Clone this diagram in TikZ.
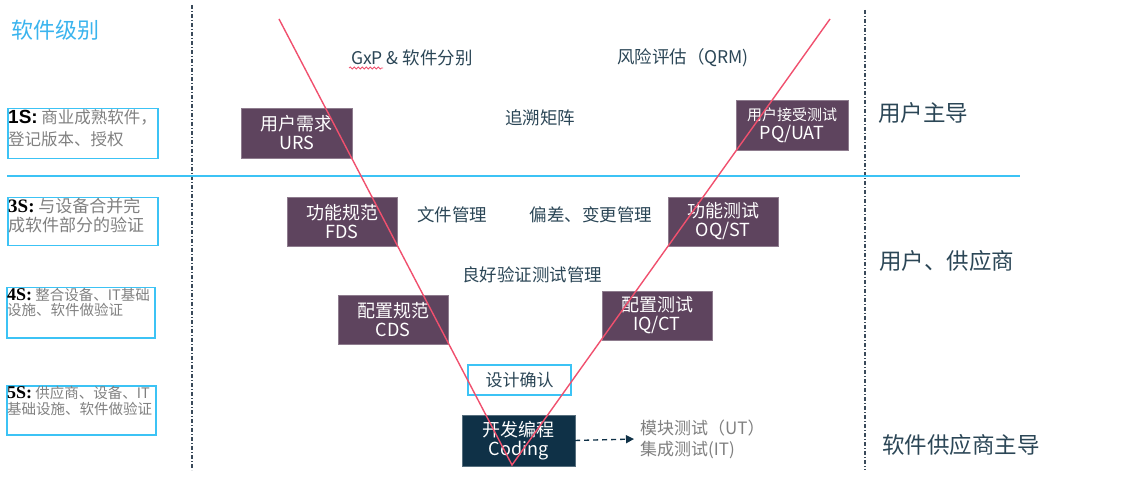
\documentclass[tikz,border=0pt]{standalone}
\usepackage{fontspec}
\setmainfont{Noto Sans CJK SC}
\newfontfamily\lblfont{Liberation Serif}
\newfontfamily\lblsans{Liberation Sans}
\usetikzlibrary{arrows.meta,decorations.pathmorphing}
\definecolor{vpurple}{RGB}{94,68,94}
\definecolor{vnavy}{RGB}{15,49,71}
\definecolor{vcyan}{RGB}{60,195,245}
\definecolor{vtitle}{RGB}{58,180,238}
\definecolor{vdark}{RGB}{43,70,86}
\definecolor{vgrey}{RGB}{128,128,128}
\definecolor{vred}{RGB}{240,80,110}
\definecolor{vdash}{RGB}{58,74,90}
\tikzset{
  pbox/.style={fill=vpurple, draw=vpurple!70!white, text=white, align=center, inner sep=0pt,
    font=\fontsize{18}{19}\selectfont},
  lbox/.style={draw=vcyan, line width=1.5pt, anchor=north west, minimum width=150pt, minimum height=50pt, inner sep=0pt},
  ltext/.style={anchor=north west, align=left, inner sep=1pt, text=vgrey},
  midtext/.style={text=vdark, font=\fontsize{17.5}{19}\selectfont, inner sep=0pt},
  sidetext/.style={text=vdark, font=\fontsize{22.5}{24}\selectfont, inner sep=0pt, anchor=west},
  vdiv/.style={draw=vdash, line width=1.3pt, dash pattern=on 4pt off 2pt on 1pt off 2pt},
  vline/.style={draw=vred, line width=1.4pt},
}
\begin{document}
\begin{tikzpicture}[x=1pt,y=-1pt]
\useasboundingbox (0,0) rectangle (1124,478);
% title
\node[text=vtitle, font=\fontsize{22}{24}\selectfont, anchor=west, inner sep=0pt] (title) at (11,30) {软件级别};
% dividers
\coordinate (l1) at (192,5); \coordinate (l2) at (192,470);
\coordinate (r1) at (865,10); \coordinate (r2) at (865,470);
\coordinate (h1) at (7,176); \coordinate (h2) at (1020,176);
\draw[vdiv] (l1) -- (l2);
\draw[vdiv] (r1) -- (r2);
\draw[vcyan, line width=1.5pt] (h1) -- (h2);
% left level boxes
\node[lbox] (b1) at (7,108) {};
\node[ltext, font=\fontsize{16.5}{22}\selectfont] (t1) at (b1.north west) {{\color{black}\lblsans\bfseries\fontsize{19}{17}\selectfont 1S:} 商业成熟软件，\\登记版本、授权};
\node[lbox, minimum width=150pt, minimum height=48pt] (b3) at (7,197) {};
\node[ltext, font=\fontsize{17}{18.5}\selectfont] (t3) at (b3.north west) {{\color{black}\lblfont\bfseries\fontsize{19}{19}\selectfont 3S:} 与设备合并完\\成软件部分的验证};
\node[lbox, minimum width=148pt, minimum height=50pt] (b4) at (6,287) {};
\node[ltext, font=\fontsize{14.5}{15.5}\selectfont] (t4) at (b4.north west) {{\color{black}\lblfont\bfseries\fontsize{18}{16}\selectfont 4S:} 整合设备、IT基础\\设施、软件做验证};
\node[lbox, minimum width=149pt, minimum height=49pt] (b5) at (6,385) {};
\node[ltext, font=\fontsize{14.5}{16}\selectfont] (t5) at (b5.north west) {{\color{black}\lblfont\bfseries\fontsize{18}{16}\selectfont 5S:} 供应商、设备、IT\\基础设施、软件做验证};
% purple boxes
\node[pbox, minimum width=111pt, minimum height=50pt] (urs) at (296.5,133) {用户需求\\URS};
\node[pbox, minimum width=112pt, minimum height=50pt] (pq) at (792,125) {{\fontsize{15}{17}\selectfont 用户接受测试}\\PQ/UAT};
\node[pbox, minimum width=110pt, minimum height=49pt] (fds) at (342,221.5) {功能规范\\FDS};
\node[pbox, minimum width=110pt, minimum height=49pt] (oq) at (723,221.5) {功能测试\\OQ/ST};
\node[pbox, minimum width=110pt, minimum height=49pt] (cds) at (393,319.5) {配置规范\\CDS};
\node[pbox, minimum width=110pt, minimum height=49pt] (iq) at (657,315.5) {配置测试\\IQ/CT};
\node[draw=vcyan, line width=1.3pt, fill=white, minimum width=103pt, minimum height=30pt, inner sep=0pt, text=vdark, font=\fontsize{17}{18}\selectfont] (dq) at (519.5,380) {设计确认};
\node[fill=vnavy, draw=vnavy!70!white, text=white, align=center, minimum width=113pt, minimum height=51pt, inner sep=0pt, font=\fontsize{18}{19}\selectfont] (coding) at (518.5,440.5) {开发编程\\Coding};
\node[anchor=west, align=left, text=vgrey, inner sep=0pt, font=\fontsize{17}{21}\selectfont] (ut) at (640,439) {模块测试（UT）\\集成测试(IT)};
\draw[vnavy, line width=1.4pt, dash pattern=on 5pt off 4pt, -{Triangle[length=8pt,width=8pt]}] (coding.east) -- ([xshift=-6pt]ut.west);
% middle texts
\node[midtext] (gxp) at (412,58) {GxP \& 软件分别};
\draw[vred, line width=0.8pt, decorate, decoration={snake, amplitude=1pt, segment length=4pt}] (349,68) -- (383,68);
\node[midtext] (qrm) at (683,58) {风险评估（QRM)};
\node[midtext] (trace) at (540,118) {追溯矩阵};
\node[midtext] (doc) at (452,215) {文件管理};
\node[midtext] (dev) at (591,215) {偏差、变更管理};
\node[midtext] (gvt) at (532,275) {良好验证测试管理};
% side texts
\node[sidetext] (s1) at (878,113) {用户主导};
\node[sidetext] (s2) at (879,261) {用户、供应商};
\node[sidetext] (s3) at (882,445) {软件供应商主导};
% V lines
\coordinate (vl) at (279,19);
\coordinate (vb) at (512,465);
\coordinate (vr) at (830,19);
\draw[vline] (vl) -- (vb) -- (vr);
\end{tikzpicture}
\end{document}
